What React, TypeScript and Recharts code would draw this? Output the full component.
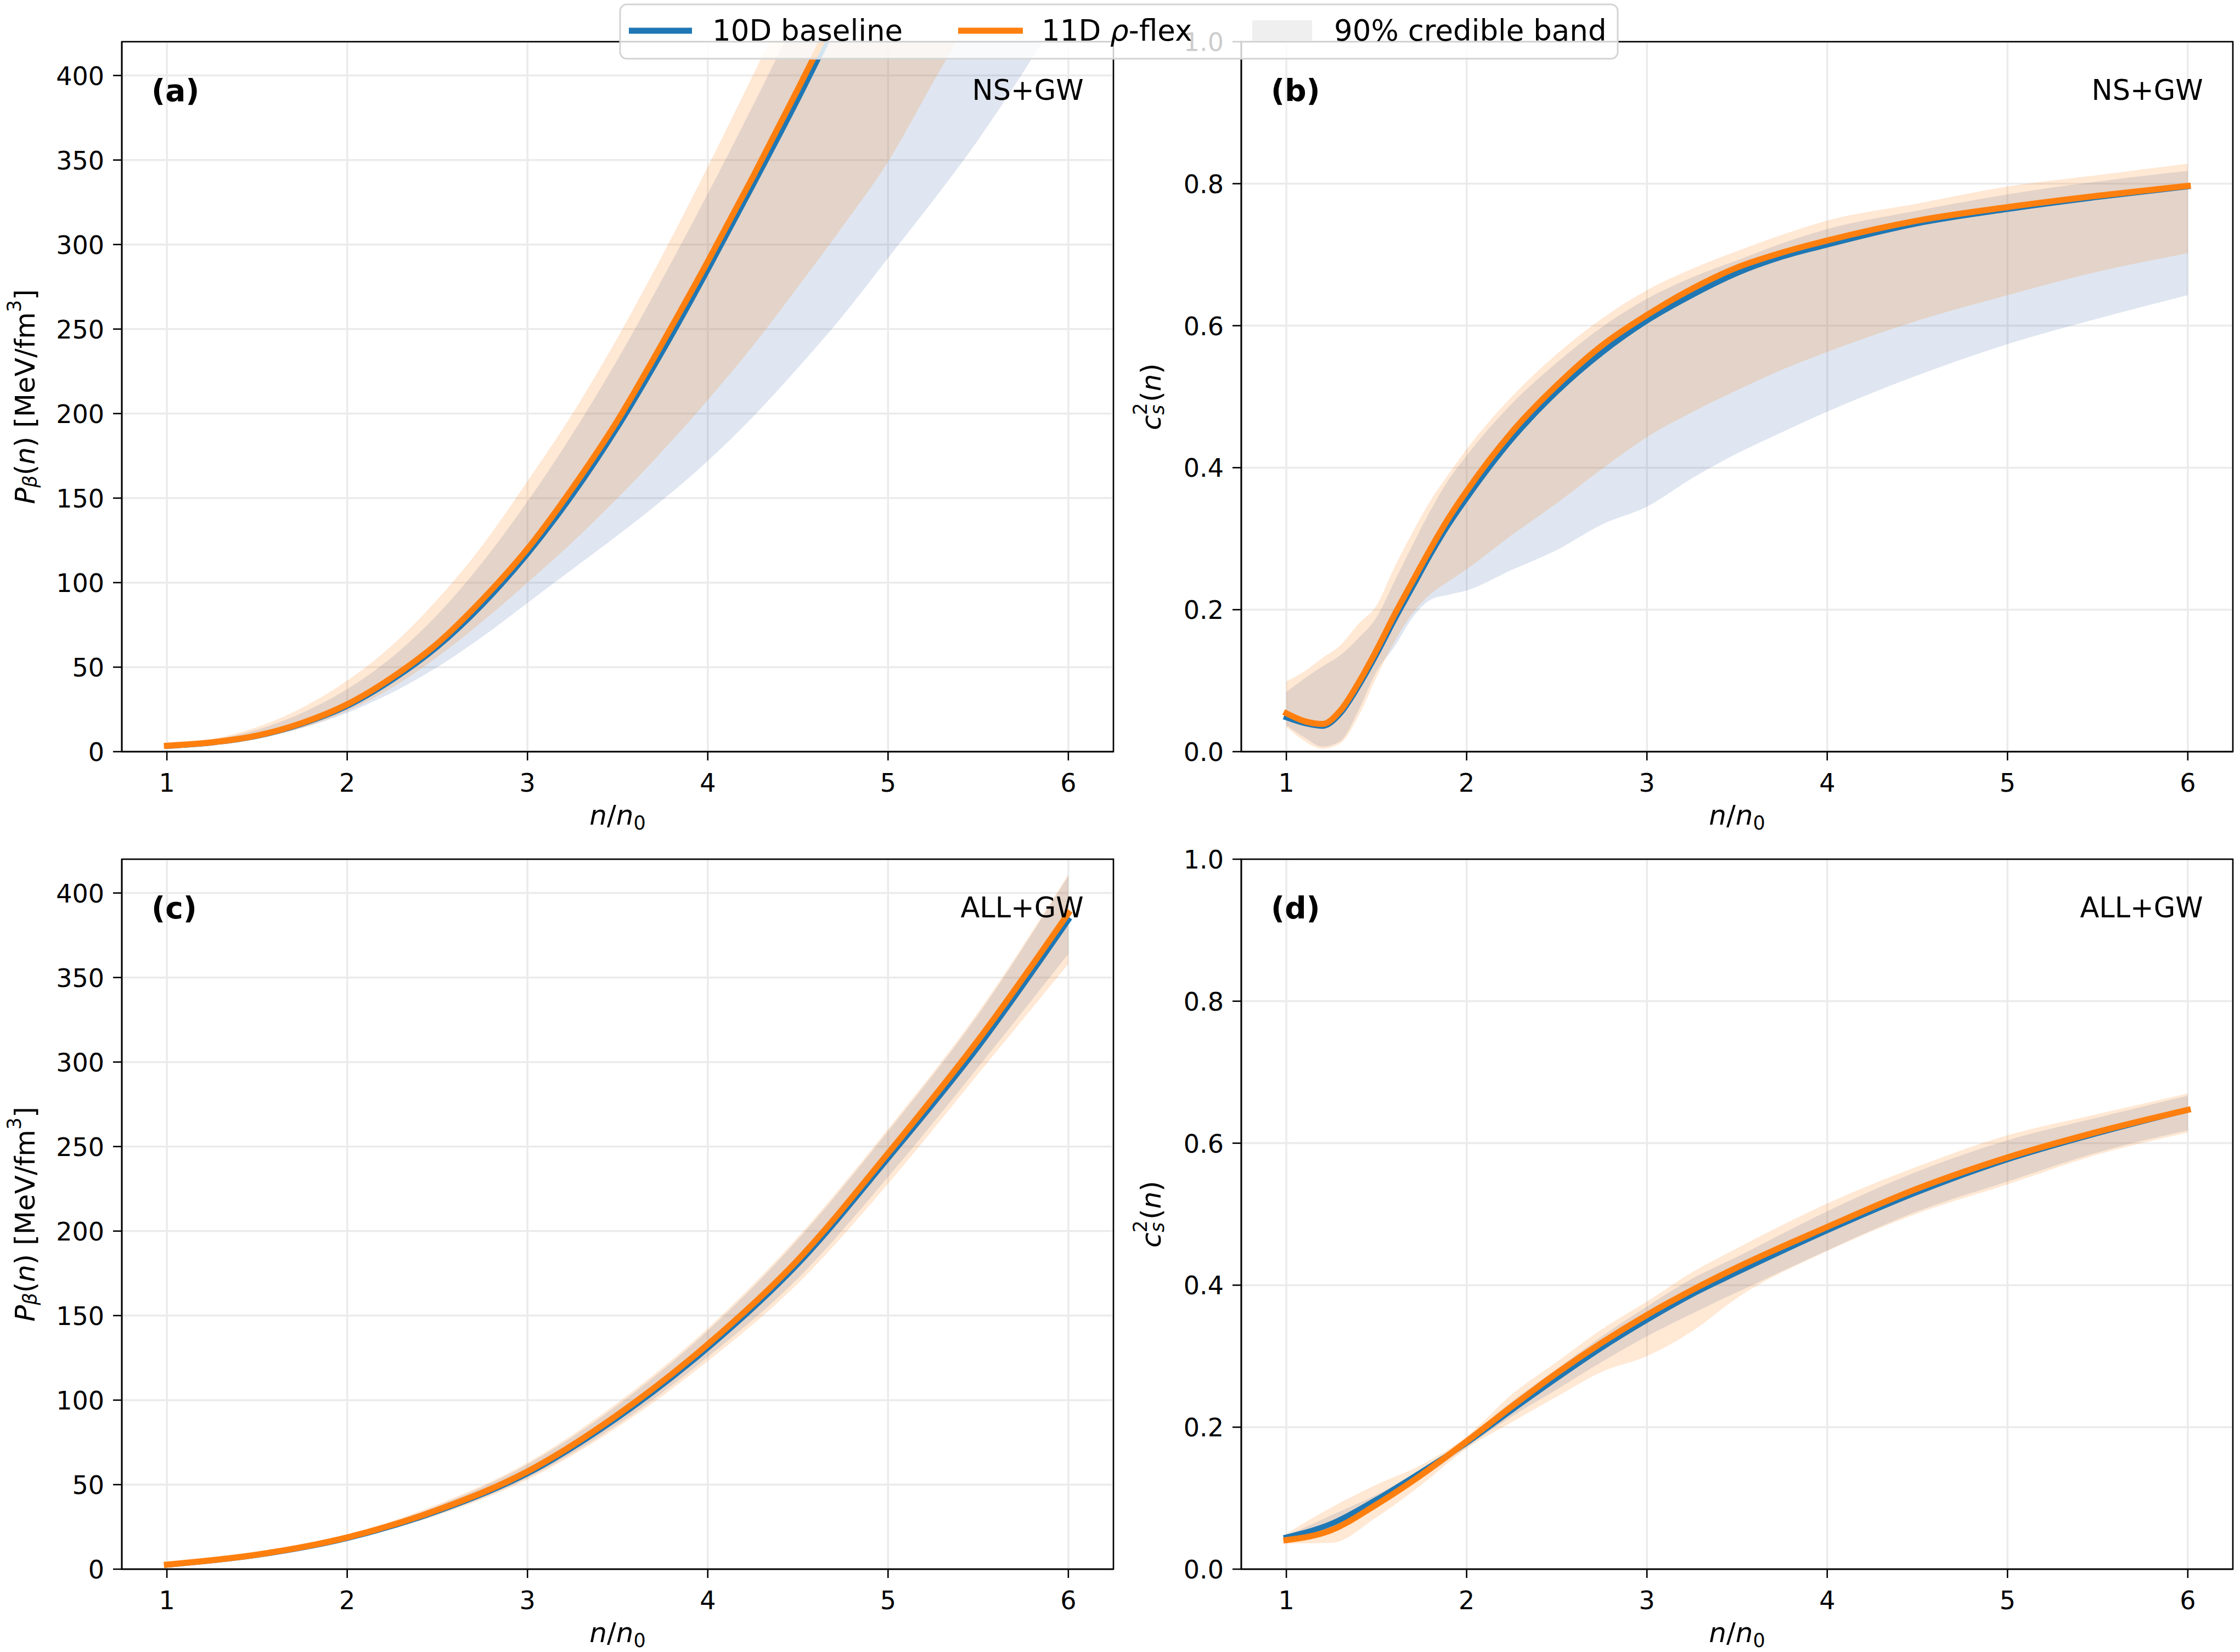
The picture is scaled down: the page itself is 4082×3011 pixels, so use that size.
import { ComposedChart, Area, Line, XAxis, YAxis, CartesianGrid } from 'recharts';

// values
const nA = [1, 1.25, 1.5, 1.75, 2, 2.25, 2.5, 2.75, 3, 3.25, 3.5, 3.75, 4, 4.25, 4.5, 4.75, 5, 5.25, 5.5, 5.75, 6];
const medA10 = [3.3, 5.3, 9.2, 16.5, 27, 42.5, 62, 87, 117, 152, 192, 237, 285, 335, 386, 440, 495, 550, 605, 660, 715];
const medA11 = [3.5, 5.5, 9.5, 17, 28, 44, 64, 90, 120, 156, 196, 242, 290, 340, 392, 445, 500, 555, 610, 665, 720];
const loA10 = [3, 5, 8, 14, 23, 35, 50, 68, 88, 108, 128, 149, 172, 198, 227, 258, 292, 326, 362, 402, 445];
const hiA10 = [4, 7, 13, 23, 37, 56, 81, 112, 148, 188, 232, 280, 330, 382, 436, 490, 545, 600, 660, 720, 780];
const loA11 = [3, 5, 8, 14, 24, 38, 56, 77, 100, 124, 150, 178, 208, 240, 275, 311, 349, 396, 442, 488, 535];
const hiA11 = [4.5, 7.5, 14.5, 26, 42, 63, 90, 122, 160, 200, 245, 294, 346, 400, 455, 510, 570, 630, 690, 745, 800];

const nB = [1, 1.1, 1.2, 1.3, 1.4, 1.5, 1.6, 1.7, 1.8, 1.9, 2, 2.25, 2.5, 2.75, 3, 3.25, 3.5, 3.75, 4, 4.5, 5, 5.5, 6];
const medB10 = [0.048, 0.04, 0.036, 0.054, 0.092, 0.137, 0.186, 0.232, 0.278, 0.32, 0.357, 0.44, 0.507, 0.562, 0.607, 0.643, 0.674, 0.697, 0.714, 0.744, 0.764, 0.781, 0.796];
const medB11 = [0.054, 0.043, 0.039, 0.058, 0.097, 0.143, 0.193, 0.24, 0.286, 0.329, 0.367, 0.45, 0.516, 0.572, 0.615, 0.652, 0.682, 0.703, 0.72, 0.748, 0.767, 0.783, 0.797];
const loB10 = [0.037, 0.02, 0.007, 0.015, 0.058, 0.113, 0.148, 0.189, 0.214, 0.221, 0.227, 0.256, 0.284, 0.32, 0.345, 0.385, 0.42, 0.45, 0.479, 0.53, 0.574, 0.61, 0.643];
const hiB10 = [0.084, 0.103, 0.12, 0.136, 0.16, 0.189, 0.24, 0.291, 0.34, 0.383, 0.417, 0.49, 0.548, 0.598, 0.638, 0.668, 0.692, 0.716, 0.736, 0.762, 0.785, 0.803, 0.818];
const loB11 = [0.035, 0.015, 0.004, 0.012, 0.05, 0.105, 0.155, 0.195, 0.222, 0.24, 0.257, 0.305, 0.35, 0.398, 0.443, 0.478, 0.509, 0.538, 0.563, 0.607, 0.643, 0.676, 0.702];
const hiB11 = [0.099, 0.113, 0.132, 0.15, 0.18, 0.206, 0.26, 0.309, 0.354, 0.391, 0.426, 0.5, 0.56, 0.61, 0.65, 0.68, 0.705, 0.728, 0.748, 0.772, 0.796, 0.812, 0.828];

const nC = [1, 1.5, 2, 2.5, 3, 3.5, 4, 4.5, 5, 5.5, 6];
const medC10 = [2.5, 8.3, 18.3, 34.2, 56.6, 89.6, 130.8, 180.5, 243, 309, 384];
const medC11 = [2.7, 8.6, 18.8, 35, 57.8, 91.4, 133, 183, 246, 313, 388];
const loC10 = [2.2, 7.8, 17.6, 32.5, 54, 85.5, 125.5, 172, 232, 297, 364];
const hiC10 = [3.2, 9.5, 20, 37.5, 62, 97, 141, 195, 259, 328, 410];
const loC11 = [2.1, 7.6, 17.2, 31.8, 53, 84, 123, 169, 228, 293, 358];
const hiC11 = [3.4, 9.8, 20.6, 38.3, 63, 98.5, 142.5, 196.5, 260.5, 329.5, 411];

const nD = [1, 1.25, 1.5, 1.75, 2, 2.25, 2.5, 2.75, 3, 3.25, 3.5, 4, 4.5, 5, 5.5, 6];
const medD10 = [0.045, 0.064, 0.098, 0.137, 0.178, 0.224, 0.269, 0.312, 0.351, 0.387, 0.418, 0.477, 0.531, 0.577, 0.614, 0.647];
const medD11 = [0.041, 0.055, 0.091, 0.133, 0.18, 0.229, 0.276, 0.319, 0.358, 0.393, 0.425, 0.482, 0.536, 0.58, 0.616, 0.647];
const loD10 = [0.043, 0.058, 0.09, 0.128, 0.172, 0.215, 0.253, 0.292, 0.328, 0.36, 0.39, 0.449, 0.504, 0.546, 0.587, 0.618];
const hiD10 = [0.047, 0.076, 0.105, 0.141, 0.184, 0.236, 0.282, 0.328, 0.37, 0.409, 0.44, 0.504, 0.56, 0.604, 0.636, 0.667];
const loD11 = [0.036, 0.037, 0.073, 0.119, 0.17, 0.207, 0.243, 0.278, 0.3, 0.335, 0.382, 0.448, 0.501, 0.542, 0.584, 0.615];
const hiD11 = [0.05, 0.087, 0.119, 0.147, 0.187, 0.246, 0.292, 0.338, 0.377, 0.418, 0.452, 0.515, 0.567, 0.611, 0.641, 0.67];

const xTicks = [1, 2, 3, 4, 5, 6];
const pTicks = [0, 50, 100, 150, 200, 250, 300, 350, 400];
const cTicks = [0, 0.2, 0.4, 0.6, 0.8, 1];

const BLUE = '#1f77b4';
const ORANGE = '#ff7f0e';
const FONT = 'DejaVu Sans';

function rows(n, m10, m11, lo10, hi10, lo11, hi11) {
    return n.map((v, i) => ({
        n: v,
        m10: m10[i],
        m11: m11[i],
        b10: [lo10[i], hi10[i]],
        b11: [lo11[i], hi11[i]],
    }));
}

const XTick = ({ x, y, payload }) => (
    <text x={x} y={y} dy={41} textAnchor="middle" fontSize={46} fontFamily={FONT} fill="#000">
        {payload.value}
    </text>
);

const makeYTick = (fmt) => ({ x, y, payload }) => (
    <text x={x} y={y} dy={17} textAnchor="end" fontSize={46} fontFamily={FONT} fill="#000">
        {fmt(payload.value)}
    </text>
);

// plot rectangles (absolute page coords)
const PW = 1807;
const PH = 1294;
const panels = [
    { key: 'a', left: 0, top: 0, yw: 222, right: 12, data: rows(nA, medA10, medA11, loA10, hiA10, loA11, hiA11), ymax: 420, ticks: pTicks, fmt: (v) => String(v), tag: 'NS+GW' },
    { key: 'b', left: 2041, top: 0, yw: 221, right: 13, data: rows(nB, medB10, medB11, loB10, hiB10, loB11, hiB11), ymax: 1, ticks: cTicks, fmt: (v) => v.toFixed(1), tag: 'NS+GW' },
    { key: 'c', left: 0, top: 1490, yw: 222, right: 12, data: rows(nC, medC10, medC11, loC10, hiC10, loC11, hiC11), ymax: 420, ticks: pTicks, fmt: (v) => String(v), tag: 'ALL+GW' },
    { key: 'd', left: 2041, top: 1490, yw: 221, right: 13, data: rows(nD, medD10, medD11, loD10, hiD10, loD11, hiD11), ymax: 1, ticks: cTicks, fmt: (v) => v.toFixed(1), tag: 'ALL+GW' },
];

function Panel({ p }) {
    const axisStyle = { stroke: '#000', strokeWidth: 2.6 };
    return (
        <div style={{ position: 'absolute', left: p.left, top: p.top }}>
            <ComposedChart
                width={p.yw + PW + p.right}
                height={76 + PH + 140}
                data={p.data}
                margin={{ top: 76, right: p.right, bottom: 0, left: 0 }}
            >
                <CartesianGrid stroke="#ebebeb" strokeWidth={3.5} />
                <XAxis
                    dataKey="n"
                    type="number"
                    domain={[0.75, 6.25]}
                    ticks={xTicks}
                    interval={0}
                    allowDataOverflow
                    height={140}
                    tickSize={16}
                    tickMargin={16}
                    axisLine={axisStyle}
                    tickLine={axisStyle}
                    tick={<XTick />}
                />
                <YAxis
                    type="number"
                    domain={[0, p.ymax]}
                    ticks={p.ticks}
                    interval={0}
                    allowDataOverflow
                    width={p.yw}
                    tickSize={16}
                    tickMargin={16}
                    axisLine={axisStyle}
                    tickLine={axisStyle}
                    tick={makeYTick(p.fmt)}
                />
                <Area dataKey="b10" type="monotone" stroke="none" fill="#4c72b0" fillOpacity={0.18} isAnimationActive={false} />
                <Area dataKey="b11" type="monotone" stroke="none" fill={ORANGE} fillOpacity={0.18} isAnimationActive={false} />
                <Line dataKey="m10" type="monotone" stroke={BLUE} strokeWidth={10} strokeLinecap="square" dot={false} activeDot={false} isAnimationActive={false} />
                <Line dataKey="m11" type="monotone" stroke={ORANGE} strokeWidth={11} strokeLinecap="square" dot={false} activeDot={false} isAnimationActive={false} />
            </ComposedChart>
        </div>
    );
}

function Titles({ p }) {
    const px = p.left + p.yw;
    const py = p.top + 76;
    const cx = px + PW / 2;
    const cy = py + PH / 2;
    const ylx = p.key === 'a' || p.key === 'c' ? 46 : 2098;
    return (
        <g fontFamily={FONT} fill="#000">
            <rect x={px} y={py} width={PW} height={PH} fill="none" stroke="#000" strokeWidth={2.6} />
            <text x={px + 54} y={py + 108} fontSize={55} fontWeight="bold">({p.key})</text>
            <text x={px + PW * 0.97} y={py + 106} fontSize={51} textAnchor="end">{p.tag}</text>
            <text x={cx} y={py + PH + 133} fontSize={50} textAnchor="middle">
                <tspan fontStyle="italic">n</tspan>/<tspan fontStyle="italic">n</tspan>
                <tspan fontSize={35} dy={9}>0</tspan>
            </text>
            {p.ymax > 1 ? (
                <text transform={`translate(${ylx}, ${cy}) rotate(-90)`} textAnchor="middle" dominantBaseline="central" fontSize={50}>
                    <tspan fontStyle="italic">P</tspan>
                    <tspan fontStyle="italic" fontSize={35} dy={9}>β</tspan>
                    <tspan dy={-9}>(</tspan>
                    <tspan fontStyle="italic">n</tspan>
                    <tspan>) [MeV/fm</tspan>
                    <tspan fontSize={35} dy={-20}>3</tspan>
                    <tspan dy={20}>]</tspan>
                </text>
            ) : (
                <text transform={`translate(${ylx}, ${cy}) rotate(-90)`} textAnchor="middle" dominantBaseline="central" fontSize={50}>
                    <tspan fontStyle="italic">c</tspan>
                    <tspan fontSize={35} dy={-20}>2</tspan>
                    <tspan fontSize={35} fontStyle="italic" dx={-22} dy={31}>s</tspan>
                    <tspan dx={5} dy={-11}>(</tspan>
                    <tspan fontStyle="italic">n</tspan>
                    <tspan>)</tspan>
                </text>
            )}
        </g>
    );
}

function LegendBox() {
    return (
        <g fontFamily={FONT} fontSize={53} fill="#000">
            <rect x={1130} y={8} width={1818} height={99} rx={12} fill="#fff" fillOpacity={0.8} stroke="#d4d4d4" strokeWidth={3} />
            <line x1={1146} y1={56} x2={1261} y2={56} stroke={BLUE} strokeWidth={11} />
            <text x={1298} y={74}>10D baseline</text>
            <line x1={1746} y1={56} x2={1864} y2={56} stroke={ORANGE} strokeWidth={11} />
            <text x={1898} y={74}>11D <tspan fontStyle="italic">ρ</tspan>-flex</text>
            <rect x={2282} y={37} width={109} height={38} fill="#efefef" />
            <text x={2431} y={74}>90% credible band</text>
        </g>
    );
}

export default function App() {
    return (
        <div style={{ position: 'relative', width: 4082, height: 3011, background: '#fff', overflow: 'hidden' }}>
            <style>{'body{margin:0}'}</style>
            {panels.map((p) => <Panel key={p.key} p={p} />)}
            <svg width={4082} height={3011} style={{ position: 'absolute', left: 0, top: 0, pointerEvents: 'none' }}>
                {panels.map((p) => <Titles key={p.key} p={p} />)}
                <LegendBox />
            </svg>
        </div>
    );
}
